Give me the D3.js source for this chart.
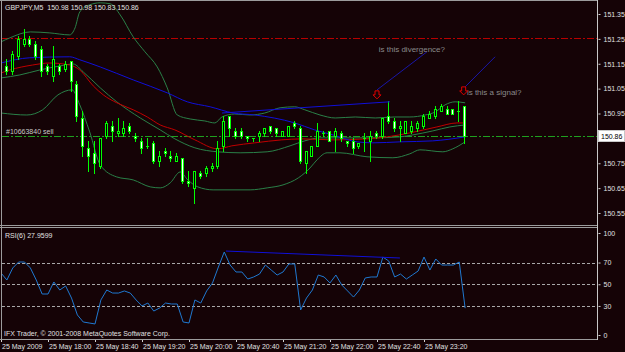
<!DOCTYPE html>
<html>
<head>
<meta charset="utf-8">
<script src="https://cdn.jsdelivr.net/npm/d3@7"></script>
<style>
  html, body { margin: 0; padding: 0; background: #150306; }
  svg { display: block; }
  text { font-family: "Liberation Sans", Arial, sans-serif; font-size: 7px; }
</style>
</head>
<body>
<svg id="chart" width="625" height="352"></svg>
<script>
// GBPJPY M5, 25 May 2009, bars 17:20 .. 23:55
const opens  = [151.10,151.14,151.12,151.18,151.23,151.25,151.23,151.21,151.14,151.10,151.14,151.13,151.16,151.07,150.93,150.81,150.79,150.74,150.86,150.90,
                150.87,150.87,150.90,150.86,150.84,150.82,150.83,150.76,150.80,150.78,150.76,150.77,150.68,150.65,150.71,150.71,150.73,150.74,150.82,150.94,
                150.88,150.88,150.86,150.85,150.86,150.87,150.90,150.89,150.86,150.86,150.91,150.89,150.75,150.78,150.82,150.87,150.88,150.86,150.87,150.84,
                150.84,150.82,150.85,150.84,150.87,150.86,150.94,150.92,150.89,150.87,150.88,150.89,150.90,150.93,150.94,150.96,150.97,150.97,150.96,150.98];
const highs  = [151.17,151.17,151.20,151.26,151.29,151.26,151.24,151.22,151.15,151.22,151.15,151.16,151.16,151.08,150.96,150.84,150.84,150.85,150.92,150.92,
                150.93,150.92,150.91,150.87,150.85,150.85,150.84,150.80,150.81,150.80,150.79,150.77,150.72,150.72,150.72,150.74,150.75,150.84,150.94,150.94,
                150.89,150.89,150.86,150.85,150.88,150.89,150.90,150.89,150.88,150.90,150.92,150.90,150.80,150.82,150.91,150.88,150.88,150.89,150.88,150.84,
                150.85,150.83,150.87,150.88,150.88,150.93,151.00,150.93,150.92,150.92,150.92,150.92,150.95,150.96,150.98,150.99,150.98,150.97,151.00,150.98];
const lows   = [151.09,151.11,151.11,151.17,151.22,151.22,151.17,151.10,151.11,151.08,151.11,151.12,151.04,150.92,150.78,150.72,150.71,150.73,150.85,150.84,
                150.86,150.86,150.87,150.84,150.79,150.81,150.75,150.74,150.78,150.76,150.76,150.67,150.66,150.59,150.69,150.70,150.72,150.73,150.80,150.86,
                150.85,150.85,150.84,150.84,150.84,150.86,150.87,150.86,150.86,150.86,150.89,150.75,150.71,150.78,150.82,150.86,150.84,150.80,150.84,150.82,
                150.79,150.81,150.80,150.76,150.85,150.85,150.91,150.88,150.84,150.87,150.87,150.88,150.89,150.93,150.93,150.96,150.95,150.95,150.92,150.83];
const closes = [151.16,151.12,151.19,151.25,151.25,151.23,151.18,151.12,151.12,151.17,151.12,151.15,151.08,150.94,150.82,150.78,150.75,150.85,150.91,150.88,
                150.88,150.89,150.88,150.85,150.81,150.82,150.76,150.78,150.79,150.77,150.78,150.68,150.67,150.72,150.70,150.73,150.74,150.81,150.92,150.89,
                150.86,150.86,150.85,150.85,150.87,150.89,150.88,150.87,150.88,150.90,150.90,150.76,150.80,150.82,150.88,150.87,150.84,150.88,150.85,150.83,
                150.81,150.83,150.85,150.86,150.86,150.93,150.92,150.89,150.90,150.92,150.90,150.91,150.94,150.95,150.97,150.98,150.95,150.95,150.96,150.86];

// indicator lines: [bar, price]
const bbUpper = [[0,151.238],[1.5,151.254],[5,151.278],[8.3,151.274],[11.7,151.266],[12.6,151.294],[13.4,151.358],[15.1,151.387],[16.9,151.395],
                 [18.6,151.391],[20.3,151.346],[22.5,151.258],[24.5,151.198],[26.6,151.137],[28.3,151.053],[30,150.944],[32.2,150.928],[34.7,150.920],
                 [36.4,150.912],[37.6,150.936],[39.8,150.948],[42.4,150.944],[44.9,150.952],[47.5,150.973],[50,150.977],[51.7,150.965],[54.3,150.944],
                 [56.9,150.932],[60.3,150.936],[63.7,150.932],[67,150.936],[69.6,150.936],[72.2,150.944],[73.9,150.956],[75.6,150.985],[77.3,150.997],[79,150.993]];
const bbMiddle = [[0,151.093],[3.2,151.105],[6.6,151.125],[10,151.141],[12.3,151.149],[14,151.117],[16.9,151.053],[19.7,150.997],[23.7,150.932],
                  [27.1,150.884],[29.6,150.848],[33,150.812],[36.9,150.796],[40.7,150.792],[45.3,150.796],[49.2,150.820],[51.7,150.840],[54.3,150.852],
                  [57.7,150.852],[62.8,150.852],[67.9,150.856],[70.1,150.864],[73.5,150.880],[76.4,150.896],[79,150.904]];
const bbLower = [[0,150.952],[4.4,150.944],[7.1,150.965],[9.7,151.025],[12.1,151.045],[13.4,150.985],[15.1,150.876],[16.9,150.743],[19.7,150.695],
                 [22.5,150.683],[25.4,150.655],[27.1,150.651],[28.8,150.671],[30.5,150.715],[31.8,150.683],[33.5,150.655],[36.1,150.643],[42.4,150.643],
                 [45.3,150.651],[48,150.663],[50.6,150.691],[52.6,150.731],[53.8,150.764],[55.5,150.792],[57.7,150.792],[62.3,150.776],[66.7,150.772],
                 [69.6,150.788],[71.3,150.804],[75.2,150.796],[76.9,150.808],[79,150.836]];
const maRed = [[0,151.113],[1.5,151.125],[5.4,151.145],[8.3,151.153],[11.7,151.145],[13.4,151.125],[15.7,151.061],[17.4,151.025],[19.7,150.993],
               [22.5,150.965],[24.9,150.936],[27.1,150.904],[29.6,150.884],[33,150.844],[36.9,150.808],[39.3,150.820],[43.2,150.832],[47.8,150.844],
               [51.2,150.848],[56.5,150.844],[62.3,150.848],[65.7,150.856],[69.6,150.872],[74.2,150.896],[77.6,150.912],[79,150.912]];
const maBlue = [[0,151.153],[4.9,151.174],[11.7,151.178],[13.4,151.166],[16.9,151.137],[22.5,151.085],[28.3,151.033],[31.7,150.997],[35.6,150.977],
                [39.5,150.952],[43.2,150.944],[50,150.912],[53.4,150.884],[56.5,150.864],[60.6,150.836],[63.3,150.832],[67.9,150.836],[73.5,150.840],[79,150.856]];

const rsiValues = [60.4,53.9,65.0,70.5,70.5,65.0,53.9,41.0,41.0,52.1,44.7,48.4,37.3,21.7,15.2,14.3,13.4,35.5,44.7,41.9,
                   41.9,43.8,41.9,35.5,30.0,32.7,25.3,28.1,32.7,31.8,31.8,15.2,14.3,35.5,32.7,43.8,51.2,65.9,79.7,67.7,
                   61.3,61.3,54.8,56.7,59.4,67.7,63.1,58.5,61.3,68.7,68.7,26.3,37.3,44.7,58.5,56.7,51.2,58.5,49.3,43.8,
                   38.2,44.7,55.8,56.7,56.7,75.1,71.4,56.7,59.4,54.8,58.5,62.2,75.1,63.1,73.3,67.7,67.7,67.7,70.5,27.96];
const rsiLevels = [30, 50, 70];

const priceTicks = [151.35, 151.25, 151.15, 151.05, 150.95, 150.75, 150.65, 150.55];
const timeTicks = [0, 8, 16, 24, 32, 40, 48, 56, 64, 72];
const timeLabels = ['25 May 2009', '25 May 18:00', '25 May 18:40', '25 May 19:20', '25 May 20:00',
                    '25 May 20:40', '25 May 21:20', '25 May 22:00', '25 May 22:40', '25 May 23:20'];

// drawn objects
const trendPrice = [[37.6, 150.952], [66.2, 150.997]];
const trendRsi = [[38.3, 80.6], [67.9, 74.2]];
const arrows = [[64, 151.041], [78.75, 151.057]];
const notes = [
  {text: 'is this divergence?', at: [64.3, 151.196], line: [[64, 151.045], [72.5, 151.198]]},
  {text: 'is this a signal?', at: [79.3, 151.023], line: [[79, 151.057], [84.1, 151.178]]}
];
const hLineRed = 151.255;
const hLineOrder = 150.86;

const svg = d3.select('#chart');
const axisX = 597.5;

const x = d3.scaleLinear().domain([0, 64]).range([1, 377]);
const yPrice = d3.scaleLinear().domain([150.55, 151.35]).range([213, 14]);
const yRsi = d3.scaleLinear().domain([0, 100]).range([338.5, 230]);

const defs = svg.append('defs');
defs.append('clipPath').attr('id', 'mainClip')
  .append('rect').attr('x', 2).attr('y', 2).attr('width', axisX - 2).attr('height', 223);
defs.append('clipPath').attr('id', 'rsiClip')
  .append('rect').attr('x', 2).attr('y', 228).attr('width', axisX - 2).attr('height', 110);

const main = svg.append('g').attr('clip-path', 'url(#mainClip)');

// horizontal level lines
main.append('line')
  .attr('x1', 2).attr('x2', axisX)
  .attr('y1', Math.round(yPrice(hLineRed)) + 0.5).attr('y2', Math.round(yPrice(hLineRed)) + 0.5)
  .attr('stroke', '#b80000').attr('stroke-dasharray', '7,2,2,2');
main.append('line')
  .attr('x1', 2).attr('x2', axisX)
  .attr('y1', Math.round(yPrice(hLineOrder)) + 0.5).attr('y2', Math.round(yPrice(hLineOrder)) + 0.5)
  .attr('stroke', '#1fa01f').attr('stroke-dasharray', '7,2,2,2');

const priceLine = d3.line().x(d => x(d[0])).y(d => yPrice(d[1])).curve(d3.curveMonotoneX);

[bbUpper, bbMiddle, bbLower].forEach(band => {
  main.append('path').attr('d', priceLine(band))
    .attr('fill', 'none').attr('stroke', '#2a8048').attr('stroke-width', 1);
});
main.append('path').attr('d', priceLine(maRed))
  .attr('fill', 'none').attr('stroke', '#c00000').attr('stroke-width', 1);
main.append('path').attr('d', priceLine(maBlue))
  .attr('fill', 'none').attr('stroke', '#1010d8').attr('stroke-width', 1);

// candles
const bars = d3.range(opens.length);
const candle = main.append('g').selectAll('g').data(bars).enter().append('g');
candle.append('line')
  .attr('x1', i => Math.round(x(i)) - 0.5).attr('x2', i => Math.round(x(i)) - 0.5)
  .attr('y1', i => Math.round(yPrice(highs[i]))).attr('y2', i => Math.round(yPrice(lows[i])) + 1)
  .attr('stroke', '#00ff00');
candle.each(function (i) {
  const g = d3.select(this);
  const cx = Math.round(x(i));
  const top = Math.round(yPrice(Math.max(opens[i], closes[i])));
  const bot = Math.round(yPrice(Math.min(opens[i], closes[i])));
  if (bot - top < 1) {
    g.append('line').attr('x1', cx - 2).attr('x2', cx + 1)
      .attr('y1', top + 0.5).attr('y2', top + 0.5).attr('stroke', '#00ff00');
  } else {
    g.append('rect').attr('x', cx - 1.5).attr('y', top + 0.5)
      .attr('width', 2).attr('height', bot - top)
      .attr('fill', closes[i] >= opens[i] ? '#000000' : '#ffffff')
      .attr('stroke', '#00ff00');
  }
});

// trend line on price
main.append('line')
  .attr('x1', x(trendPrice[0][0])).attr('y1', yPrice(trendPrice[0][1]))
  .attr('x2', x(trendPrice[1][0])).attr('y2', yPrice(trendPrice[1][1]))
  .attr('stroke', '#1010d8');

// notes
notes.forEach(n => {
  main.append('line')
    .attr('x1', x(n.line[0][0])).attr('y1', yPrice(n.line[0][1]))
    .attr('x2', x(n.line[1][0])).attr('y2', yPrice(n.line[1][1]))
    .attr('stroke', '#1a1ad0').attr('stroke-width', 0.8);
  main.append('text').attr('x', x(n.at[0])).attr('y', yPrice(n.at[1]))
    .attr('fill', '#8a8a8a').style('font-size', '8px').text(n.text);
});

// down arrows
arrows.forEach(a => {
  const cx = x(a[0]);
  const t = yPrice(a[1]);
  main.append('path')
    .attr('d', `M${cx - 2},${t} H${cx + 2} V${t + 4} H${cx + 4} L${cx},${t + 8} L${cx - 4},${t + 4} H${cx - 2} Z`)
    .attr('fill', 'none').attr('stroke', '#e00000').attr('stroke-width', 1);
});

// order label
main.append('text').attr('x', 6).attr('y', yPrice(hLineOrder) - 2)
  .attr('fill', '#c8c8c8').text('#10663840 sell');

// RSI pane
const rsiPane = svg.append('g').attr('clip-path', 'url(#rsiClip)');
rsiLevels.forEach(v => {
  rsiPane.append('line')
    .attr('x1', 2).attr('x2', axisX)
    .attr('y1', Math.round(yRsi(v)) + 0.5).attr('y2', Math.round(yRsi(v)) + 0.5)
    .attr('stroke', '#a8a8a8').attr('stroke-dasharray', '3,2');
});
rsiPane.append('path')
  .attr('d', d3.line().x((d, i) => x(i)).y(d => yRsi(d))(rsiValues))
  .attr('fill', 'none').attr('stroke', '#1f78d0').attr('stroke-width', 1);
rsiPane.append('line')
  .attr('x1', x(trendRsi[0][0])).attr('y1', yRsi(trendRsi[0][1]))
  .attr('x2', x(trendRsi[1][0])).attr('y2', yRsi(trendRsi[1][1]))
  .attr('stroke', '#1010d8');

// frames
const frame = svg.append('g').attr('stroke', '#9c9c9c').attr('fill', 'none');
frame.append('line').attr('x1', 0).attr('x2', axisX).attr('y1', 0.5).attr('y2', 0.5);
frame.append('line').attr('x1', 1.5).attr('x2', 1.5).attr('y1', 0).attr('y2', 340);
frame.append('line').attr('x1', 0).attr('x2', axisX).attr('y1', 225.5).attr('y2', 225.5);
frame.append('line').attr('x1', 0).attr('x2', axisX).attr('y1', 227.5).attr('y2', 227.5);
frame.append('line').attr('x1', 0).attr('x2', axisX).attr('y1', 339.5).attr('y2', 339.5);
frame.append('line').attr('x1', axisX).attr('x2', axisX).attr('y1', 0).attr('y2', 340)
  .attr('stroke', '#c8c8c8');

// price axis
const priceAxis = svg.append('g').attr('transform', `translate(${axisX + 1},0)`)
  .call(d3.axisRight(yPrice).tickValues(priceTicks).tickFormat(d3.format('.2f'))
    .tickSize(2).tickPadding(3).tickSizeOuter(0));
priceAxis.select('.domain').remove();
priceAxis.selectAll('line').attr('stroke', '#d0d0d0');
priceAxis.selectAll('text').attr('fill', '#e0e0e0').style('font-size', '7px')
  .style('font-family', '"Liberation Sans", Arial, sans-serif');

// current price box
const yNow = Math.round(yPrice(hLineOrder));
svg.append('rect').attr('x', 598.5).attr('y', yNow - 5.5).attr('width', 26).attr('height', 11)
  .attr('fill', '#ffffff').attr('stroke', '#c8c8c8');
svg.append('text').attr('x', 601).attr('y', yNow + 2.5).attr('fill', '#000000').text('150.86');

// RSI axis
const rsiAxis = svg.append('g').attr('transform', `translate(${axisX + 1},0)`)
  .call(d3.axisRight(yRsi).tickValues(rsiLevels).tickFormat(d3.format('d'))
    .tickSize(2).tickPadding(3).tickSizeOuter(0));
rsiAxis.select('.domain').remove();
rsiAxis.selectAll('line').attr('stroke', '#d0d0d0');
rsiAxis.selectAll('text').attr('fill', '#e0e0e0').style('font-size', '7px')
  .style('font-family', '"Liberation Sans", Arial, sans-serif');
[[100, 233], [0, 335]].forEach(([v, yy]) => {
  svg.append('line').attr('x1', axisX + 1).attr('x2', axisX + 3).attr('y1', yy + 0.5).attr('y2', yy + 0.5)
    .attr('stroke', '#d0d0d0');
  svg.append('text').attr('x', axisX + 6).attr('y', yy + 2.5).attr('fill', '#e0e0e0').text(v);
});

// time axis
const timeAxis = svg.append('g').attr('transform', 'translate(0,340)')
  .call(d3.axisBottom(x).tickValues(timeTicks).tickFormat((d, i) => timeLabels[i])
    .tickSize(2).tickPadding(2).tickSizeOuter(0));
timeAxis.select('.domain').remove();
timeAxis.selectAll('line').attr('stroke', '#d0d0d0');
timeAxis.selectAll('text').attr('fill', '#e0e0e0').attr('text-anchor', 'start').attr('dx', '0.5')
  .style('font-size', '7px').style('font-family', '"Liberation Sans", Arial, sans-serif');

// captions
svg.append('text').attr('x', 5).attr('y', 9.5).attr('fill', '#e0e0e0')
  .attr('xml:space', 'preserve').text('GBPJPY,M5  150.98 150.98 150.83 150.86');
svg.append('text').attr('x', 5).attr('y', 237.5).attr('fill', '#e0e0e0').text('RSI(6) 27.9599');
svg.append('text').attr('x', 4).attr('y', 335.5).attr('fill', '#e0e0e0')
  .text('IFX Trader, \u00a9 2001-2008 MetaQuotes Software Corp.');
</script>
</body>
</html>
